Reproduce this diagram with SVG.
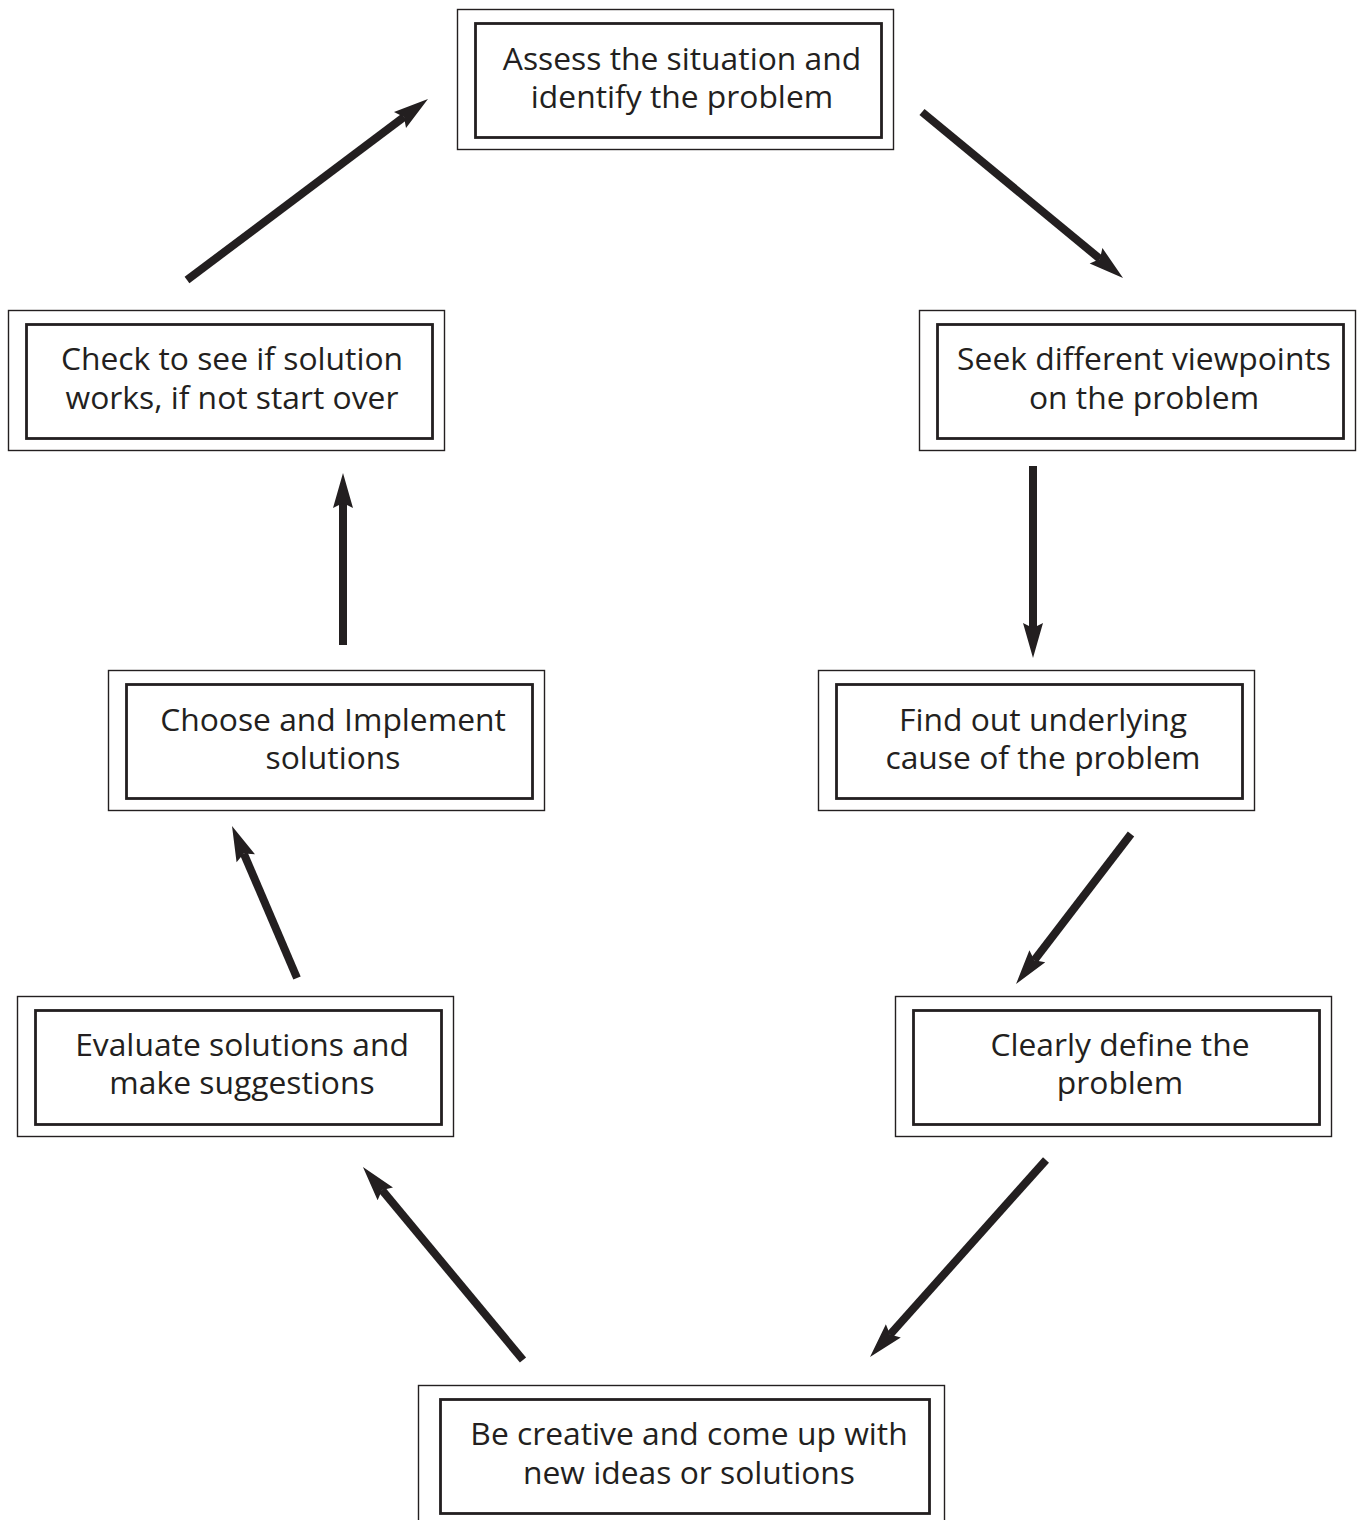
<svg xmlns="http://www.w3.org/2000/svg" width="1358" height="1520" viewBox="0 0 1358 1520">
  <style>
    .outer { fill: none; stroke: #231f20; stroke-width: 1.4; }
    .inner { fill: none; stroke: #231f20; stroke-width: 2.8; }
    .label { font-family: "Open Sans", "Noto Sans", "Liberation Sans", sans-serif; font-size: 31.8px; fill: #231f20; text-anchor: middle; }
    .arrow { stroke: #231f20; stroke-width: 8; fill: none; marker-end: url(#head); }
  </style>
  <defs>
    <marker id="head" markerUnits="userSpaceOnUse" markerWidth="40" markerHeight="24" viewBox="0 -12 40 24" refX="5" refY="0" orient="auto" overflow="visible">
      <path d="M0,-10 L35,0 L0,10 L5,0 Z" fill="#231f20"/>
    </marker>
  </defs>
  <rect width="1358" height="1520" fill="#ffffff"/>

  <g id="node-assess">
    <rect class="outer" x="457.5" y="9.5" width="436" height="140"/>
    <rect class="inner" x="475.5" y="23.5" width="406" height="114"/>
    <text class="label" x="682" y="70">Assess the situation and</text>
    <text class="label" x="682" y="108">identify the problem</text>
  </g>

  <g id="node-seek">
    <rect class="outer" x="919.5" y="310.5" width="436" height="140"/>
    <rect class="inner" x="937.5" y="324.5" width="406" height="114"/>
    <text class="label" x="1144" y="370">Seek different viewpoints</text>
    <text class="label" x="1144" y="409">on the problem</text>
  </g>

  <g id="node-find">
    <rect class="outer" x="818.5" y="670.5" width="436" height="140"/>
    <rect class="inner" x="836.5" y="684.5" width="406" height="114"/>
    <text class="label" x="1043" y="731">Find out underlying</text>
    <text class="label" x="1043" y="769">cause of the problem</text>
  </g>

  <g id="node-define">
    <rect class="outer" x="895.5" y="996.5" width="436" height="140"/>
    <rect class="inner" x="913.5" y="1010.5" width="406" height="114"/>
    <text class="label" x="1120" y="1056">Clearly define the</text>
    <text class="label" x="1120" y="1094">problem</text>
  </g>

  <g id="node-create">
    <rect class="outer" x="418.5" y="1385.5" width="526" height="140"/>
    <rect class="inner" x="440.5" y="1399.5" width="489" height="114"/>
    <text class="label" x="689" y="1445">Be creative and come up with</text>
    <text class="label" x="689" y="1484">new ideas or solutions</text>
  </g>

  <g id="node-evaluate">
    <rect class="outer" x="17.5" y="996.5" width="436" height="140"/>
    <rect class="inner" x="35.5" y="1010.5" width="406" height="114"/>
    <text class="label" x="242" y="1056">Evaluate solutions and</text>
    <text class="label" x="242" y="1094">make suggestions</text>
  </g>

  <g id="node-implement">
    <rect class="outer" x="108.5" y="670.5" width="436" height="140"/>
    <rect class="inner" x="126.5" y="684.5" width="406" height="114"/>
    <text class="label" x="333" y="731">Choose and Implement</text>
    <text class="label" x="333" y="769">solutions</text>
  </g>

  <g id="node-check">
    <rect class="outer" x="8.5" y="310.5" width="436" height="140"/>
    <rect class="inner" x="26.5" y="324.5" width="406" height="114"/>
    <text class="label" x="232" y="370">Check to see if solution</text>
    <text class="label" x="232" y="409">works, if not start over</text>
  </g>

  <g id="connectors">
    <line class="arrow" x1="922" y1="112" x2="1099.9" y2="258.9"/>
    <line class="arrow" x1="1033" y1="466" x2="1033" y2="628"/>
    <line class="arrow" x1="1131" y1="834" x2="1034.3" y2="960.2"/>
    <line class="arrow" x1="1046" y1="1160" x2="890" y2="1334.6"/>
    <line class="arrow" x1="523" y1="1360" x2="382.1" y2="1190.1"/>
    <line class="arrow" x1="297" y1="978" x2="243.8" y2="853.6"/>
    <line class="arrow" x1="343" y1="645" x2="343" y2="503"/>
    <line class="arrow" x1="187" y1="280" x2="404" y2="117"/>
  </g>
</svg>
